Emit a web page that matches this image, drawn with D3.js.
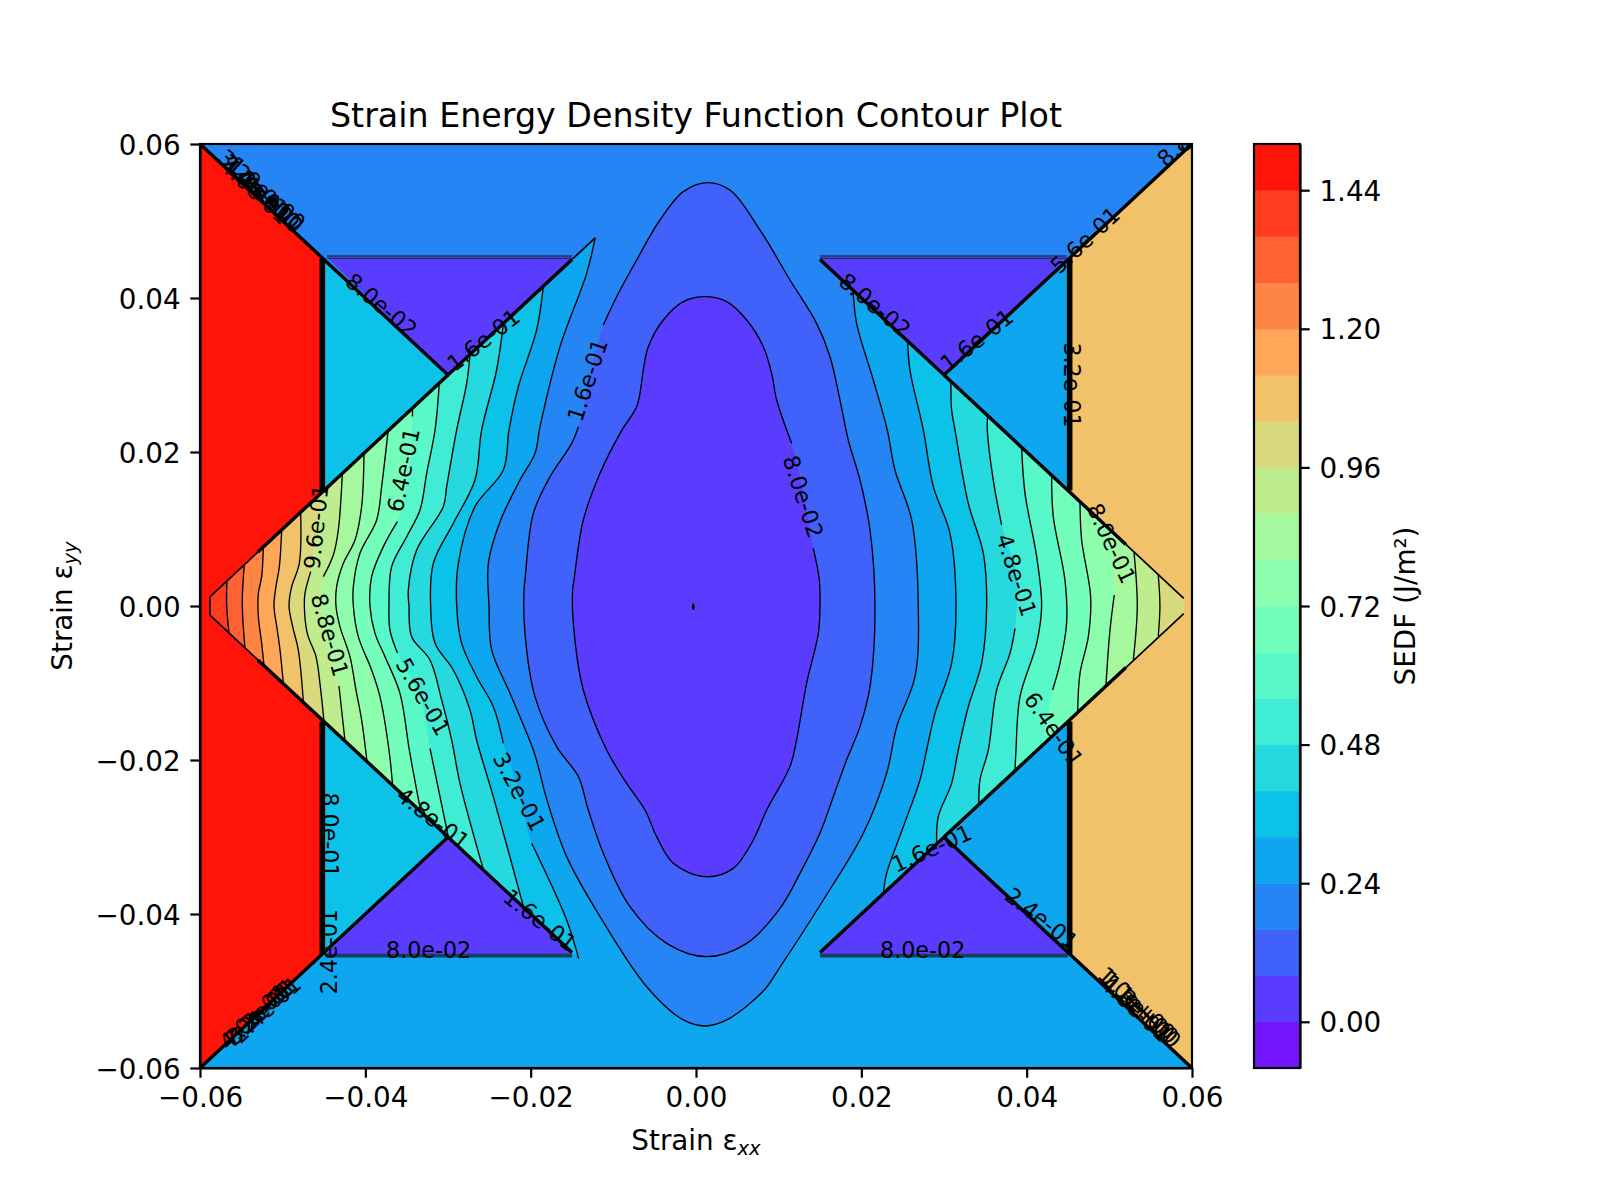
<!DOCTYPE html>
<html>
<head>
<meta charset="utf-8">
<script src="https://cdn.jsdelivr.net/npm/d3@7"></script>
<style>
html,body{margin:0;padding:0;background:#fff}
svg{display:block}
text{font-family:"DejaVu Sans",sans-serif;fill:#000}
</style>
</head>
<body>
<svg id="chart" width="1600" height="1200"></svg>
<script>
// All contour coordinates are strain x 1000. A third element of 1 marks a point hidden under a contour label.
const chartTitle = "Strain Energy Density Function Contour Plot";
const xTicks = [-0.06,-0.04,-0.02,0,0.02,0.04,0.06];
const yTicks = [-0.06,-0.04,-0.02,0,0.02,0.04,0.06];
const colorbarTicks = [0,0.24,0.48,0.72,0.96,1.20,1.44];
const bandEdges = d3.range(21).map(i => Math.round((-0.08 + 0.08*i)*100)/100);

const left136 = [[-56.75,3.3],[-56.77,0],[-56.5,-3.4]];
const left128 = [[-54.64,5.4],[-54.88,1.21],[-54.84,-1.39],[-54.56,-5.4]];
const left120 = [[-52.34,7.6],[-52.54,3.81],[-52.94,1.64],[-52.94,-1.39],[-52.54,-4.85],[-52.26,-7.7]];
const left112 = [[-50.12,9.8],[-50.40,5.11],[-50.81,2.51],[-51.05,0],[-50.65,-3.12],[-50.32,-5.71],[-49.92,-10]];
const left104 = [[-47.82,12.1],[-47.99,5.54],[-48.91,2.51],[-49.23,0],[-48.79,-2.68],[-48.11,-5.71],[-47.5,-12.4]];
const left096 = [[-45.2,14.8],[-45.9,9.9,1],[-46.61,4.46],[-47.30,1.64],[-47.38,0],[-47.02,-3.55],[-45.97,-6.58],[-45.49,-10.04],[-45,-15]];
const left088 = [[-42.78,17.2],[-43.27,9.87],[-43.87,6.62],[-45.08,3.81],[-45.36,0,1],[-44.68,-4.85,1],[-43.19,-10.39],[-42.46,-17.5]];
const left080 = [[-40.16,19.8],[-40.45,12.9],[-41.25,8.57],[-42.66,5.54],[-43.47,2.51],[-43.55,0],[-43.07,-2.68],[-41.86,-6.58],[-41.13,-10.91],[-40.45,-14.8],[-39.8,-20.2]];
const left072 = [[-37.25,22.75],[-38.03,15.5],[-38.63,11.17],[-40.65,6.84],[-41.45,2.51],[-41.45,0],[-40.85,-3.98],[-39.24,-8.31],[-38.23,-11.77],[-37.14,-18.7],[-36.7,-23.3]];
const left064 = [[-34.3,25.6],[-34.3,24.6],[-34.6,18.53,1],[-35.4,14.2,1],[-36.13,10.95],[-37.82,7.71],[-39.24,3.81],[-39.44,0],[-38.83,-3.55],[-37.62,-6.58],[-35.81,-11.34],[-34.68,-18.7],[-33.3,-26.7]];
const left056 = [[-31.05,29],[-31.57,22.86],[-32.58,17.23],[-33.39,12.47],[-35,9],[-36.82,5.11],[-37.14,0],[-37.02,-3.12],[-36.13,-6.06],[-33.39,-11.77,1],[-32.18,-18.48],[-29.96,-30]];
const left048 = [[-27.34,32.6],[-27.74,28.92],[-28.95,22.86],[-30.16,15.5],[-30.57,12.9],[-33.79,7.27],[-34.8,2.08],[-34.72,0],[-34.4,-3.98],[-32.18,-7.02],[-30.77,-12.2],[-29.56,-17.4],[-28.55,-23.03],[-25.73,-34.2]];
const left040 = [[-23.31,36.6],[-24.12,30.65],[-25.93,22.86],[-26.74,16.36],[-29.36,10.74],[-31.78,5.54],[-32.1,0],[-31.57,-4.85],[-29.36,-8.31],[-27.34,-13.5],[-26.54,-17.4],[-24.52,-24.76],[-20.89,-39]];
const left032 = [[-18.47,41.5],[-19.28,35.85],[-21.49,28.49],[-22.62,22.86],[-23.31,17.66],[-26.74,12.9],[-28.75,5.54],[-28.95,0],[-28.35,-4.85],[-26.54,-9.18],[-24.52,-13.08],[-23.31,-17.83],[-21.49,-23.89,1],[-19.88,-30.82],[-15.65,-40.78],[-14.2,-45.8]];

const right096 = [[55.92,4.03],[56.12,0],[55.92,-3.9]];
const right088 = [[52.98,7],[53.38,0],[52.9,-7]];
const right080 = [[49.87,10],[50.5,5,1],[50.6,1.43],[50.08,-3.12],[49.59,-10.3]];
const right072 = [[46.45,13.5],[46.65,8.57],[47.74,1.21],[47.46,-3.98],[46.45,-8.74],[46.17,-13.8]];
const right064 = [[43.02,17],[43.22,11.6],[44.63,3.38],[44.83,-2.25],[44.03,-7.45],[43.14,-10.91],[42.42,-15.24,1],[41.81,-18.2,1]];
const right056 = [[39.39,20.6],[39.8,14.63],[41.21,6.41],[41.81,0],[41.21,-4.85],[39.19,-11.78],[38.71,-18.7],[38.59,-21.4]];
const right048 = [[35.28,24.7],[35.24,22.86],[35.96,16.36],[36.97,10.52],[38.79,4.03,1],[38.59,-2.9],[37.98,-6.15],[36.37,-10.91],[35.36,-18.7],[34.35,-22.6],[34.23,-25.7]];
const right040 = [[30.84,29.2],[30.92,25.46],[31.33,22.86],[32.94,13.33],[34.76,6.84],[35.16,0],[34.55,-7.45],[32.94,-13.08],[31.73,-18.7],[30.92,-23.03],[29.31,-27.36],[29.11,-30.8]];
const right032 = [[25.6,34.4],[25.88,30.65],[27.5,22.86],[28.71,15.5],[30.72,9.44],[31.45,0],[30.92,-7.45],[28.91,-13.94],[27.9,-18.7],[27.09,-22.6],[25.08,-28.66],[23.06,-34.72],[22.66,-37.3]];

// level 0.24 runs from the upper-left edge, under the centre, to the upper-right edge
const contour024 = [[-12.2,47.8],[-13.23,43.2],[-16.45,33.68],[-18.87,23.29],[-19.48,19.82],[-21.29,16.36],[-23.71,10.95],[-25.12,5.54],[-25.04,0],[-24.72,-5.71],[-22.5,-11.34],[-19.68,-18.7],[-18.87,-21.73],[-18.27,-24.33],[-15.65,-32.55],[-11.61,-40.34],[-5.97,-49.44],[-1.53,-53.76],[1.09,-54.54],[3.71,-53.76],[8.14,-50],[10.16,-46.9],[15.4,-38.18],[20.24,-29.52],[23.06,-21.73],[24.3,-15.6],[26.49,-9.18],[26.89,0],[26.09,11.17],[24.07,17.66],[23.14,22.86],[21.45,29.35],[19.43,36.71],[19,41]];
// closed levels
const contour016 = [[1.29,54.98],[4.11,54.02],[7.74,48.83],[11.37,42.34],[14.59,36.71],[16.21,32.38],[17.42,26.75],[18.42,21.56],[19.84,16.36],[21.05,9.87],[21.65,0],[21.05,-10.48],[19.84,-15.67],[18.22,-20],[16.61,-24.76],[14.99,-29.52],[12.58,-34.72],[10.16,-39.26],[6.13,-43.81],[1.29,-45.54],[-3.55,-43.81],[-7.99,-39.05],[-11.21,-32.12],[-13.03,-26.49],[-14.23,-22.16],[-16.86,-18.27],[-19.48,-11.77],[-20.69,-3.55],[-20.81,2.08],[-20.69,3.37],[-19.68,12.03],[-17.66,16.79],[-15.04,21.12],[-14.23,23.29],[-12.82,29.78,1],[-11.21,36.49],[-9.6,40.17],[-7.18,44.93],[-4.36,50.13],[-1.53,53.81]];
const contour008 = [[1.09,40.17],[3.71,39.52],[6.13,37.14],[8.14,33.68],[9.15,30.21],[9.76,26.75],[11.57,21.12],[12.98,14.63,1],[14.19,7.49],[14.92,3.37],[15,0],[14.8,-3.55],[13.38,-10.04],[12.17,-17.4],[11.37,-20.86],[8.55,-26.49],[6.93,-30.39],[4.51,-34.07],[1.09,-35.15],[-2.74,-33.42],[-4.76,-29.95],[-6.17,-26.49],[-8.39,-23.03],[-10.81,-18.7],[-13.63,-10.91],[-14.84,-2.25],[-14.92,2.08],[-14.76,3.37],[-13.63,11.17],[-11.61,17.23],[-9.19,22.42],[-7.18,25.89],[-6.78,27.62],[-6.37,30.65],[-5.77,33.68],[-3.95,37.14],[-1.53,39.52]];
const contour000 = [[-0.32,0.4],[-0.15,-0.2],[-0.25,-0.5],[-0.4,-0.5],[-0.5,-0.2]];

// Sublevel sets painted high to low: [level, left line, right line]
const openLevels = [
  [1.36,left136,null],[1.28,left128,null],[1.20,left120,null],[1.12,left112,null],[1.04,left104,null],
  [0.96,left096,right096],[0.88,left088,right088],[0.80,left080,right080],[0.72,left072,right072],
  [0.64,left064,right064],[0.56,left056,right056],[0.48,left048,right048],[0.40,left040,right040],[0.32,left032,right032]
];

// Piecewise-constant regions of the field
const diamondRegion = [[0,60],[59,1],[59.2,0],[59,-1],[0,-60],[-58.8,-1.2],[-58.8,1.2]];
const topRegion = [[-60,60],[60,60],[45,45],[-45,45]];
const leftCells = [[[-45.2,45.2],[-30,30],[-45.2,14.8]],[[-45.2,-14.8],[-30,-30],[-45.2,-45.2]]];
const rightCells = [[[45.2,45.2],[30,30],[45.2,14.8]],[[45.2,-14.8],[30,-30],[45.2,-45.2]]];
const voidTriangles = [
  [[-44.6,45.2],[-15,45.2],[-30,30]],[[15,45.2],[44.8,45.2],[30,30]],
  [[-44.8,-45.2],[-15,-45.2],[-30,-30]],[[15,-45.2],[45,-45.2],[30,-30]]
];
const leftSector = [[-60,60],[-45.2,45.2],[-45.2,14.8],[-58.8,1.2],[-58.8,-1.2],[-45.2,-14.8],[-45.2,-45.2],[-60,-60]];
const rightSector = [[60,60],[45.2,45.2],[45.2,14.8],[59,1],[59.2,0],[59,-1],[45.2,-14.8],[45.2,-45.2],[60,-60]];
const basinRimTop = [[-12.2,47.8],[0,60],[15,45]];
const basinRimBottom = [[-15,-45],[0,-60],[15,-45]];

// Stacked contours that collapse onto the sector boundaries
const boundaryHeavy = [
  [[-45.2,45.2],[-45.2,15]],[[-45.2,-15],[-45.2,-45.2]],[[45.2,45.2],[45.2,15]],[[45.2,-15],[45.2,-45.2]]
];
const boundaryMedium = [
  [[-60,60],[-45.2,45.2]],[[-60,-60],[-45.2,-45.2]],[[60,60],[45.2,45.2]],[[60,-60],[45.2,-45.2]],
  [[-45.2,45.2],[-30,30],[-15,45]],[[-45.2,-45.2],[-30,-30],[-15,-45]],[[15,45],[30,30],[45.2,45.2]],[[15,-45],[30,-30],[45.2,-45.2]],
  [[-53,7],[-30,30]],[[-53,-7],[-30,-30]],[[52,8],[30,30]],[[52,-8],[30,-30]]
];
const boundaryLight = [
  [[-53,7],[-58.8,1.2],[-58.8,-1.2],[-53,-7]],[[52,8],[59,1]],[[52,-8],[59,-1]],[[-15,45],[-12.2,47.8]]
];
const boundaryBarsTop = [[[-44.6,45.3],[-15,45.3]],[[15,45.3],[44.8,45.3]]];
const boundaryBarsBottom = [[[-44.8,-45.4],[-15,-45.4]],[[15,-45.4],[45,-45.4]]];

// [text, x, y, rotation]
const contourLabels = [
  ["3.2e-01",-53.6,55,43],["2.4e-01",-53.2,54.4,43],["4.0e-01",-53.3,53.9,43],["1.2e+00",-52.5,53.7,43],["1.4e+00",-52.2,53.2,43],["1.0e+00",-51.9,53.6,43],
  ["4.0e-01",-53.5,-53.3,-43],["7.2e-01",-53,-53,-43],["3.2e-01",-52.6,-52.6,-43],["2.4e-01",-52,-52.4,-43],
  ["1.0e+00",53.3,-51.6,43],["1.1e+00",53.7,-52.1,43],["4.8e-01",53.2,-52.3,43],["1.3e+00",54,-52.6,43],
  ["8.8e-01",59.95,61.4,-43],["8.0e-01",62.2,63.3,-43],
  ["8.0e-02",-38.03,39.09,40],["1.6e-01",-25.73,34.55,-38],["6.4e-01",-35.4,17.66,-78],["9.6e-01",-45.97,10.3,-84],
  ["8.8e-01",-44.28,-3.77,74],["5.6e-01",-32.99,-11.77,60],["4.8e-01",-31.78,-27.57,38],["3.2e-01",-21.37,-24.11,62],
  ["1.6e-01",-18.87,-40.78,38],["8.0e-02",-32.34,-44.67,0],["8.0e-01",-44.28,-29.74,90],["2.4e-01",-44.4,-44.89,-90],
  ["1.6e-01",-13.15,29.35,-72],["8.0e-02",12.98,14.2,72],["8.0e-02",21.65,39.09,40],["1.6e-01",33.95,34.55,-38],
  ["5.6e-01",47.05,47.53,-43],["3.2e-01",45.44,28.7,90],["8.0e-01",50.28,8.14,65],["4.8e-01",38.79,4.03,72],
  ["6.4e-01",43.3,-16,55],["1.6e-01",28.5,-31.47,-24],["2.4e-01",41.81,-40.56,38],["8.0e-02",27.42,-44.67,0]
];

// ---------- drawing ----------
const axL = 200, axR = 1192, axT = 144, axB = 1068, cbL = 1254, cbR = 1300;
const x = d3.scaleLinear().domain([-0.06,0.06]).range([axL,axR]);
const y = d3.scaleLinear().domain([-0.06,0.06]).range([axB,axT]);
const cy = d3.scaleLinear().domain([-0.08,1.52]).range([axB,axT]);
const px = p => x(p[0]/1000), py = p => y(p[1]/1000);

function rainbow(t){
  const c = v => Math.round(255*Math.max(0,Math.min(1,v)));
  return `rgb(${c(Math.abs(2*t-0.5))},${c(Math.sin(Math.PI*t))},${c(Math.cos(Math.PI*t/2))})`;
}
const bandColor = i => rainbow((i+0.5)/20);
const colorBelow = level => bandColor(Math.round((level+0.08)/0.08)-1);

const svg = d3.select("#chart");
const defs = svg.append("defs");
defs.append("clipPath").attr("id","axesClip").append("rect")
  .attr("x",axL).attr("y",axT).attr("width",axR-axL).attr("height",axB-axT);
const raw = d3.line().x(px).y(py);
defs.append("clipPath").attr("id","diamondClip").append("path").attr("d",raw(diamondRegion)+"Z");

const smooth = d3.line().x(px).y(py).curve(d3.curveCatmullRom.alpha(0.5));
const smoothClosed = d3.line().x(px).y(py).curve(d3.curveCatmullRomClosed.alpha(0.5));
const visibleLine = d3.line().x(px).y(py).curve(d3.curveCatmullRom.alpha(0.5)).defined(p => !p[2]);
const polygon = pts => raw(pts)+"Z";

const plot = svg.append("g").attr("clip-path","url(#axesClip)");
plot.append("rect").attr("x",axL).attr("y",axT).attr("width",axR-axL).attr("height",axB-axT).attr("fill",bandColor(4));
plot.append("path").attr("d",polygon(topRegion)).attr("fill",bandColor(3));

// central basin, painted from high levels to low ones
const basin = plot.append("g").attr("clip-path","url(#diamondClip)");
basin.append("path").attr("d",polygon(diamondRegion)).attr("fill",bandColor(18));
const far = 70;
openLevels.forEach(([level,left,right]) => {
  let d = smooth(left);
  if (right) {
    d += `L${x(0)},${y(-far/1000)}` + smooth(right.slice().reverse()).replace(/^M/,"L") + `L${x(0)},${y(far/1000)}Z`;
  } else {
    d += `L${x(0)},${y(-far/1000)}L${x(far/1000)},${y(-far/1000)}L${x(far/1000)},${y(far/1000)}L${x(0)},${y(far/1000)}Z`;
  }
  basin.append("path").attr("d",d).attr("fill",colorBelow(level));
});
basin.append("path").attr("d",smooth(contour024)+`L${x(0)},${y(far/1000)}Z`).attr("fill",colorBelow(0.24));
basin.append("path").attr("d",smoothClosed(contour016)+"Z").attr("fill",colorBelow(0.16));
basin.append("path").attr("d",smoothClosed(contour008)+"Z").attr("fill",colorBelow(0.08));

// hide the antialiased rim of the painted stack where the basin meets the flat regions
plot.append("path").attr("d",raw(basinRimTop)).attr("fill","none").attr("stroke",bandColor(3)).attr("stroke-width",1.8);
plot.append("path").attr("d",raw(basinRimBottom)).attr("fill","none").attr("stroke",bandColor(4)).attr("stroke-width",1.8);

// sector cells
plot.selectAll(".leftCell").data(leftCells).join("path").attr("d",polygon).attr("fill",bandColor(5));
plot.selectAll(".rightCell").data(rightCells).join("path").attr("d",polygon).attr("fill",bandColor(4));
plot.append("path").attr("d",polygon(rightSector)).attr("fill",bandColor(14));
plot.append("path").attr("d",polygon(leftSector)).attr("fill",bandColor(19));
voidTriangles.forEach(t => plot.append("path").attr("d",polygon(t)).attr("fill",bandColor(1)));

// contour lines
const lineGroup = plot.append("g").attr("fill","none").attr("stroke","#000").attr("stroke-width",1.35);
const drawOpen = pts => lineGroup.append("path").attr("d",visibleLine(pts));
openLevels.forEach(([,left,right]) => { drawOpen(left); if (right) drawOpen(right); });
drawOpen(contour024);
[contour016,contour008].forEach(loop => {
  const k = loop.findIndex(p => p[2]);
  drawOpen(loop.slice(k+1).concat(loop.slice(0,k)));
});
plot.append("path").attr("d",smoothClosed(contour000)).attr("fill","#000");

// collapsed contours on the boundaries
const strokes = (list,w,c) => list.forEach(s => plot.append("path").attr("d",raw(s)).attr("fill","none")
  .attr("stroke",c).attr("stroke-width",w).attr("stroke-linejoin","miter"));
strokes(boundaryBarsTop,3.8,"#1f2f6e");
strokes(boundaryBarsTop,1,"#3a58c8");
strokes(boundaryBarsBottom,3.8,"#14405f");
strokes(boundaryLight,1.7,"#000");
strokes(boundaryMedium,3.4,"#000");
strokes(boundaryHeavy,5.6,"#000");

// contour labels
plot.selectAll(".clabel").data(contourLabels).join("text")
  .attr("class","clabel")
  .attr("transform",d => `translate(${x(d[1]/1000)},${y(d[2]/1000)}) rotate(${d[3]})`)
  .attr("text-anchor","middle").attr("dominant-baseline","central")
  .attr("font-size",22.2).text(d => d[0]);

// axes
const fmt = d3.format(".2f");
const styleAxis = g => {
  g.selectAll("path.domain").attr("stroke","#000").attr("stroke-width",2.2);
  g.selectAll(".tick line").attr("stroke","#000").attr("stroke-width",2.2);
  g.selectAll("text").attr("font-size",27.8).attr("font-family",'"DejaVu Sans",sans-serif');
};
const nudgeLabels = g => g.selectAll("text").attr("dy","0.36em");
svg.append("g").attr("transform",`translate(0,${axB})`)
  .call(d3.axisBottom(x).tickValues(xTicks).tickFormat(fmt).tickSize(9.7).tickPadding(9.7).tickSizeOuter(0)).call(styleAxis);
svg.append("g").attr("transform",`translate(${axL},0)`)
  .call(d3.axisLeft(y).tickValues(yTicks).tickFormat(fmt).tickSize(9.7).tickPadding(9.7).tickSizeOuter(0)).call(styleAxis).call(nudgeLabels);
svg.append("rect").attr("x",axL).attr("y",axT).attr("width",axR-axL).attr("height",axB-axT)
  .attr("fill","none").attr("stroke","#000").attr("stroke-width",2.2);

svg.append("text").attr("x",(axL+axR)/2).attr("y",127).attr("text-anchor","middle").attr("font-size",33.3).text(chartTitle);

const xl = svg.append("text").attr("x",(axL+axR)/2).attr("y",1150).attr("text-anchor","middle").attr("font-size",27.8);
xl.append("tspan").text("Strain ε");
xl.append("tspan").attr("font-size",19.5).attr("font-style","italic").attr("dy",5).text("xx");
const yl = svg.append("text").attr("transform",`translate(72,${(axT+axB)/2}) rotate(-90)`).attr("text-anchor","middle").attr("font-size",27.8);
yl.append("tspan").text("Strain ε");
yl.append("tspan").attr("font-size",19.5).attr("font-style","italic").attr("dy",5).text("yy");

// colour bar
const bands = d3.range(20);
svg.append("g").selectAll("rect").data(bands).join("rect")
  .attr("x",cbL).attr("width",cbR-cbL)
  .attr("y",i => cy(bandEdges[i+1])).attr("height",i => cy(bandEdges[i])-cy(bandEdges[i+1])+0.5)
  .attr("fill",bandColor);
svg.append("g").attr("transform",`translate(${cbR},0)`)
  .call(d3.axisRight(cy).tickValues(colorbarTicks).tickFormat(fmt).tickSize(9.7).tickPadding(9.7).tickSizeOuter(0)).call(styleAxis).call(nudgeLabels);
svg.append("rect").attr("x",cbL).attr("y",axT).attr("width",cbR-cbL).attr("height",axB-axT)
  .attr("fill","none").attr("stroke","#000").attr("stroke-width",2.2);
svg.append("text").attr("transform",`translate(1415,${(axT+axB)/2}) rotate(-90)`).attr("text-anchor","middle").attr("font-size",27.8).text("SEDF (J/m²)");
</script>
</body>
</html>
